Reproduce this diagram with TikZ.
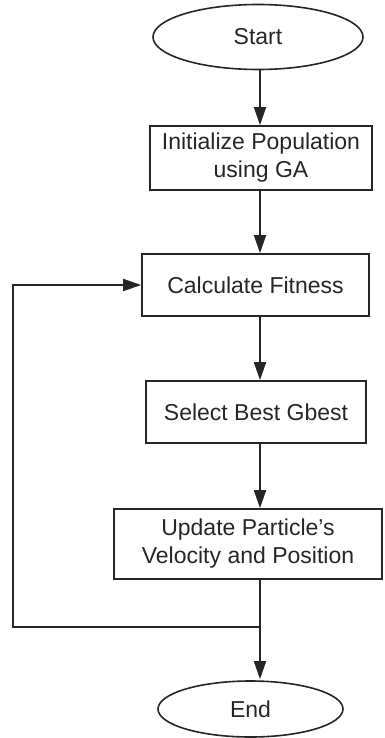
\documentclass[tikz,border=0pt]{standalone}
\usepackage{fontspec}
\setmainfont{Liberation Sans}
\usepackage{tikz}
\usetikzlibrary{arrows.meta}
\usetikzlibrary{shapes.geometric}
\colorlet{ink}{black!85}
\tikzstyle{blk}=[draw=ink,line width=1.6pt,text=ink,align=center,inner sep=0pt,font=\fontsize{23}{28}\selectfont]
\tikzstyle{term}=[blk,ellipse]
\tikzstyle{proc}=[blk,rectangle]
\tikzstyle{flow}=[draw=ink,line width=1.6pt,-{Triangle[length=18pt,width=12pt]}]
\tikzstyle{wire}=[draw=ink,line width=1.6pt]
\begin{document}
\begin{tikzpicture}[x=1pt,y=-1pt]
	\useasboundingbox (0,0) rectangle (385,738);
	\node[term,minimum width=210,minimum height=65] (start) at (258,37)    {Start};
	\node[proc,minimum width=222,minimum height=64] (init)  at (261,158)   {Initialize Population\\using GA};
	\node[proc,minimum width=227,minimum height=62] (calc)  at (255.5,285) {Calculate Fitness};
	\node[proc,minimum width=220,minimum height=62] (sel)   at (256,412)   {Select Best Gbest};
	\node[proc,minimum width=268,minimum height=70] (upd)   at (248,544)   {Update Particle's\\Velocity and Position};
	\node[term,minimum width=185,minimum height=56] (stop)  at (250.5,709) {End};
	\coordinate (ax) at (260,0);
	\coordinate (jn) at (260,627);
	\coordinate (lc) at (13,627);
	\draw[flow] (start.south -| ax) -- (init.north -| ax);
	\draw[flow] (init.south -| ax)  -- (calc.north -| ax);
	\draw[flow] (calc.south -| ax)  -- (sel.north -| ax);
	\draw[flow] (sel.south -| ax)   -- (upd.north -| ax);
	\draw[wire] (upd.south -| ax)   -- (jn);
	\draw[flow] (jn) -- ([yshift=1pt]jn |- stop.north);
	\draw[flow] (jn) -- (lc) -- (lc |- calc.west) -- (calc.west);
\end{tikzpicture}
\end{document}
